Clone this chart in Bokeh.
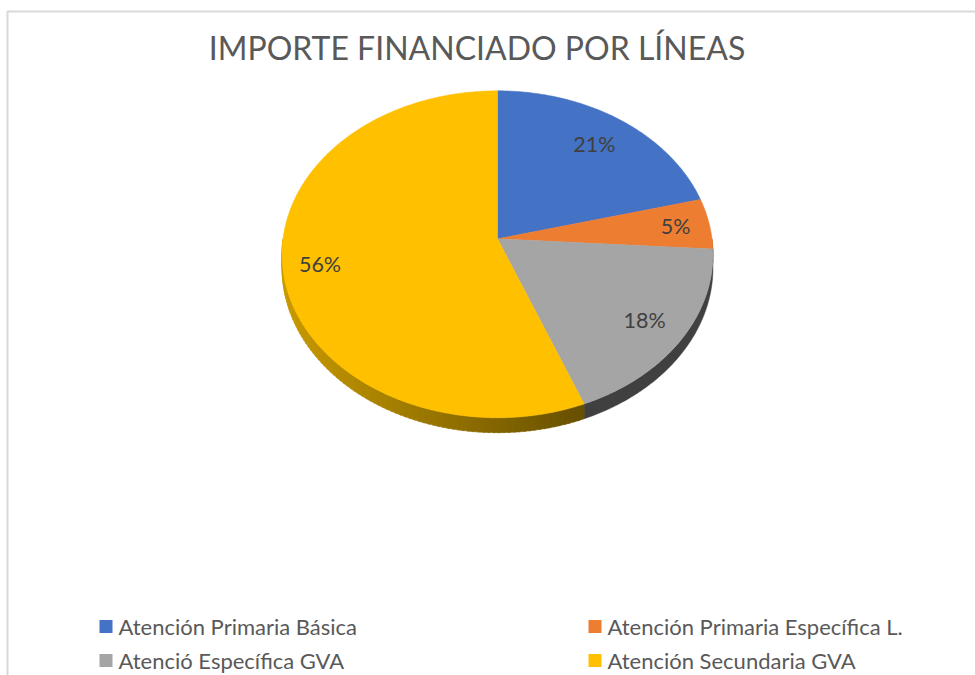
import math
from bokeh.plotting import figure
from bokeh.models import Range1d
from bokeh.core.properties import value
from bokeh.embed import file_html
from bokeh.resources import INLINE

# ---------------- data ----------------
title_text = "IMPORTE FINANCIADO POR LÍNEAS"
categories = ["Atención Primaria Básica", "Atención Primaria Específica L.",
              "Atenció Específica GVA", "Atención Secundaria GVA"]
shares = [21, 5, 18, 56]
pct_labels = ["21%", "5%", "18%", "56%"]

# ---------------- style ----------------
top_colors = ["#4472C4", "#ED7D31", "#A5A5A5", "#FFC000"]
side_colors = ["#2F528F", "#A9561E", "#404040", None]  # yellow side uses a gradient
yellow_side_left = (0xC9, 0x9A, 0x00)
yellow_side_right = (0x66, 0x4F, 0x00)
FONT = "Lato"

# geometry of the tilted pie (page pixels)
CX, CY = 497.0, 238.3
RX, RY = 214.5, 162.0
K = 0.0947          # perspective strength
DEPTH = 13.5        # side thickness
label_r = [0.78, 0.84, 0.81, 0.83]

W, H = 975, 675
p = figure(width=W, height=H, output_backend="svg", toolbar_location=None,
           x_range=Range1d(0, W), y_range=Range1d(H, 0),
           min_border=0)
p.axis.visible = False
p.grid.visible = False
p.outline_line_color = None
p.background_fill_color = "white"
p.border_fill_color = "white"


def proj(theta_deg, r=1.0, drop=0.0):
    t = math.radians(theta_deg)
    u = r * math.sin(t)
    v = r * math.cos(t)
    f = 1.0 / (1.0 + K * v)
    return CX + RX * u * f, CY - RY * v * f + drop * f


def arc(a0, a1, drop=0.0, n=None):
    if n is None:
        n = max(4, int(abs(a1 - a0) * 1.5))
    pts = [proj(a0 + (a1 - a0) * i / n, 1.0, drop) for i in range(n + 1)]
    return pts


total = float(sum(shares))
starts, ends = [], []
acc = 0.0
for s in shares:
    starts.append(acc / total * 360.0)
    acc += s
    ends.append(acc / total * 360.0)

# chart frame border
p.line(x=[7, 7, W], y=[H, 11, 11], line_color="#D9D9D9", line_width=2)

# ---- sides (front half only: 90..270 deg) ----
for i in range(len(shares)):
    a0 = max(starts[i], 90.0)
    a1 = min(ends[i], 270.0)
    if a1 <= a0:
        continue
    if side_colors[i] is not None:
        top = arc(a0, a1)
        bot = arc(a1, a0, DEPTH)
        xs = [q[0] for q in top + bot]
        ys = [q[1] for q in top + bot]
        p.patch(xs, ys, fill_color=side_colors[i], line_color=side_colors[i], line_width=0.5)
    else:
        nseg = 90
        pxs, pys, cols = [], [], []
        xl, _ = proj(270.0)
        xr, _ = proj(a0)
        for j in range(nseg):
            b0 = a0 + (a1 - a0) * j / nseg
            b1 = a0 + (a1 - a0) * (j + 1) / nseg + 0.3
            b1 = min(b1, a1)
            top = arc(b0, b1, 0.0, 2)
            bot = arc(b1, b0, DEPTH, 2)
            pxs.append([q[0] for q in top + bot])
            pys.append([q[1] for q in top + bot])
            xm = sum(q[0] for q in top) / len(top)
            tt = min(1.0, max(0.0, (xm - xl) / (xr - xl)))
            c = tuple(int(round(yellow_side_left[k] + (yellow_side_right[k] - yellow_side_left[k]) * tt)) for k in range(3))
            cols.append("#%02X%02X%02X" % c)
        p.patches(xs=pxs, ys=pys, fill_color=cols, line_color=cols, line_width=0.6)

# ---- top faces ----
for i in range(len(shares)):
    pts = [(CX, CY)] + arc(starts[i], ends[i]) + [(CX, CY)]
    p.patch([q[0] for q in pts], [q[1] for q in pts],
            fill_color=top_colors[i], line_color=top_colors[i], line_width=0.5)

# ---- data labels ----
lx, ly = [], []
for i in range(len(shares)):
    mid = (starts[i] + ends[i]) / 2.0
    x, y = proj(mid, label_r[i])
    lx.append(x)
    ly.append(y)
p.text(x=lx, y=ly, text=pct_labels, text_align="center", text_baseline="middle",
       text_font=value(FONT), text_font_size="21.5px", text_color="#404040")

# ---- title ----
p.text(x=[476.5], y=[47], text=[title_text], text_align="center", text_baseline="middle",
       text_font=value(FONT), text_font_size="32px", text_color="#595959")

# ---- legend ----
col_x = [99, 588]
row_y = [626, 660]
sq_x, sq_y, tx, ty = [], [], [], []
for i in range(len(categories)):
    cx = col_x[i % 2]
    cy = row_y[i // 2]
    sq_x.append(cx + 6.5)
    sq_y.append(cy)
    tx.append(cx + 19)
    ty.append(cy)
p.rect(x=sq_x, y=sq_y, width=13, height=13, fill_color=top_colors, line_color=None)
p.text(x=tx, y=ty, text=categories, text_align="left", text_baseline="middle",
       text_font=value(FONT), text_font_size="22px", text_color="#595959")

open("out.html", "w").write(file_html(p, INLINE))
